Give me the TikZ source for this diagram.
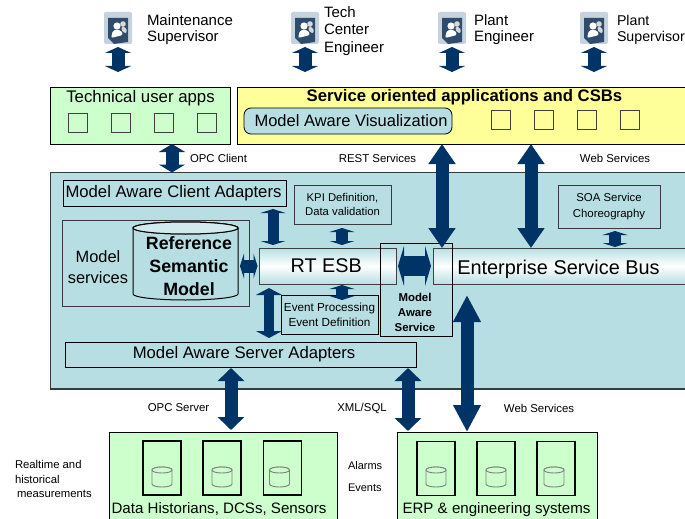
\documentclass[tikz,border=0pt]{standalone}
\usepackage{fontspec}
\setmainfont{Liberation Sans}
\usetikzlibrary{arrows.meta,calc}
\definecolor{arrowblue}{HTML}{003366}
\definecolor{maingreen}{HTML}{CCFFCC}
\definecolor{mainyellow}{HTML}{FFFF99}
\definecolor{mainteal}{HTML}{B7DFE3}
\definecolor{edgegray}{HTML}{3A3A3A}
\definecolor{iconframe}{HTML}{C6D2DE}
\definecolor{icondark}{HTML}{304C6C}
\newcommand{\fsz}[1]{\fontsize{#1}{#1}\selectfont}
\newcommand{\cylbody}[3]{%
  \path[#3] ($(#1.north west)+(0,#2)$) -- ($(#1.south west)+(0,-#2)$)
     arc[start angle=180,end angle=360,x radius={\csname cylrx\endcsname},y radius=#2 pt]
     -- ($(#1.north east)+(0,#2)$)
     arc[start angle=0,end angle=180,x radius={\csname cylrx\endcsname},y radius=#2 pt] -- cycle;
  \path[#3] ($(#1.north west)+(0,#2)$)
     arc[start angle=180,end angle=540,x radius={\csname cylrx\endcsname},y radius=#2 pt];
}
\tikzset{
  every node/.style={inner sep=0pt,outer sep=0pt},
  box/.style={draw=black,line width=1pt,minimum width=#1},
  hh/.style={minimum height=#1},
  smallsq/.style={draw=black!75,fill=none,line width=0.9pt,minimum width=19pt,minimum height=19pt},
  slot/.style={draw=black,line width=1.1pt,minimum width=38pt,minimum height=54pt},
  can/.style={minimum width=20pt,minimum height=20pt},
  canline/.style={draw=black!50,line width=0.9pt,fill=maingreen},
  rolelabel/.style={anchor=west,align=left,text=black},
  bus/.style={draw=black!75,line width=1pt,minimum height=36pt,top color=mainteal,bottom color=mainteal,middle color=white},
  blockarrow/.style n args={3}{draw=arrowblue,fill=arrowblue,line width=#1pt,
     {Triangle[width=#2pt,length=#3pt]}-{Triangle[width=#2pt,length=#3pt]}},
  person/.style={minimum width=28pt,minimum height=32pt,path picture={
     \coordinate (pc) at (path picture bounding box.center);
     \fill[iconframe,rounded corners=2pt] (path picture bounding box.south west) rectangle (path picture bounding box.north east);
     \fill[icondark] ($(pc)+(-10,-10)$) -- ($(pc)+(10,-10)$) -- ($(pc)+(10,14)$) -- ($(pc)+(-4,16)$) -- ($(pc)+(-10,10)$) -- cycle;
     \fill[white] ($(pc)+(-1,-2)$) circle (3.6pt);
     \fill[white!85!black] ($(pc)+(5,-4)$) circle (2.8pt);
     \fill[white!85!black,rounded corners=2pt] ($(pc)+(3,-1)$) -- ($(pc)+(8,-1)$) -- ($(pc)+(9,5)$) -- ($(pc)+(5,5)$) -- cycle;
     \fill[white,rounded corners=2pt] ($(pc)+(-7,10)$) -- ($(pc)+(-5,2)$) -- ($(pc)+(3,2)$) -- ($(pc)+(5,7)$) -- cycle;
  }},
}
\begin{document}
\begin{tikzpicture}[x=1pt,y=-1pt]
\clip (0,0) rectangle (685,519);
\fill[white] (0,0) rectangle (685,519);

% users
\node[person] (u1) at (118,28) {};
\node[person] (u2) at (305,28) {};
\node[person] (u3) at (452,28) {};
\node[person] (u4) at (594,28) {};
\node[rolelabel,font=\fsz{15}] (t1) at (147,30) {Maintenance\\[1pt]Supervisor};
\node[rolelabel,font=\fsz{15}] (t2) at (324,31) {Tech\\[2.5pt]Center\\[2.5pt]Engineer};
\node[rolelabel,font=\fsz{15}] (t3) at (474,30) {Plant\\[1pt]Engineer};
\node[rolelabel,font=\fsz{14.2}] (t4) at (617,30) {Plant\\[1.8pt]Supervisor};

% top boxes
\node[box=180pt,hh=57pt,fill=maingreen] (tech) at (140.5,115.5) {};
\node[font=\fsz{16.8}] (techt) at (140.5,98) {Technical user apps};
\node[smallsq] (ts1) at (77.5,122.5) {};
\node[smallsq] (ts2) at (120.5,122.5) {};
\node[smallsq] (ts3) at (163.5,122.5) {};
\node[smallsq] (ts4) at (206.5,122.5) {};

\node[box=460pt,hh=57pt,fill=mainyellow] (yellow) at (467,115.5) {};
\node[font=\bfseries\fsz{16.7}] (yellowt) at (464.5,97) {Service oriented applications and CSBs};
\node[draw=black,line width=0.8pt,fill=mainteal,rounded corners=7pt,minimum width=208pt,minimum height=26pt,font=\fsz{16.5}] (vis) at (348,121) {\hspace{6pt}Model Aware Visualization};
\node[smallsq] (ys1) at (500.5,120) {};
\node[smallsq] (ys2) at (543.5,120) {};
\node[smallsq] (ys3) at (586.5,120) {};
\node[smallsq] (ys4) at (629.5,120) {};

% main panel
\node[draw=edgegray,line width=1.3pt,fill=mainteal,minimum width=640pt,minimum height=216.5pt] (main) at (370.5,280.75) {};
\node[box=223pt,hh=26pt,font=\fsz{16.7}] (client) at (174.5,193) {\hspace{-2pt}Model Aware Client Adapters};
\node[box=186.5pt,hh=86pt,draw=edgegray] (msvc) at (155.75,263) {};
\node[font=\fsz{16.4},align=center] (msvct) at (98,267) {Model\\[4pt]services};
\node[minimum width=105pt,minimum height=78pt] (rsm) at (185.5,261) {};
\def\cylrx{52.5pt}
\cylbody{rsm}{6}{draw=black,line width=1pt,fill=mainteal}
\path[fill=mainteal!65!white,draw=black,line width=1pt] ($(rsm.north)+(0,6)$) ellipse [x radius=52.5pt,y radius=6pt];
\node[font=\bfseries\fsz{17.8},align=center] (rsmt) at (189,266) {Reference\\[5pt]Semantic\\[5pt]Model};
\node[box=97pt,hh=39pt,draw=edgegray,font=\fsz{11.3},align=center] (kpi) at (342.5,204.5) {KPI Definition,\\[3pt]Data validation};
\node[bus,minimum width=136.5pt,font=\fsz{19.8}] (rtesb) at (327.75,266) {\hspace{-3pt}RT ESB};
\node[bus,minimum width=262pt] (esb) at (564,266) {};
\node[font=\fsz{19.9}] (esbt) at (558.5,269) {Enterprise Service Bus};
\node[box=97pt,hh=39pt,font=\fsz{11.7},align=center] (event) at (329.5,314.5) {Event Processing\\[3pt]Event Definition};
\node[box=351pt,hh=25pt,font=\fsz{16.7}] (server) at (240.5,354.5) {\hspace{7pt}Model Aware Server Adapters};
\node[box=102pt,hh=43pt,draw=edgegray,font=\fsz{11.4},align=center] (soa) at (609,206.5) {SOA Service\\[4pt]Choreography};
\node[draw=black,line width=0.9pt,minimum width=72pt,minimum height=93pt] (mas) at (416.5,289.5) {};
\node[font=\bfseries\fsz{11.4},align=center] (mast) at (415,312.5) {Model\\[3.5pt]Aware\\[3.5pt]Service};

% bottom boxes
\node[box=228pt,hh=88pt,fill=maingreen] (data) at (223,476) {};
\node[slot] (d1) at (162,468) {};
\node[slot] (d2) at (222,468) {};
\node[slot] (d3) at (282.5,468) {};
\def\cylrx{10pt}
\node[can] (c1) at (162,477) {};
\node[can] (c2) at (222,477) {};
\node[can] (c3) at (279.5,477) {};
\cylbody{c1}{3}{canline}
\cylbody{c2}{3}{canline}
\cylbody{c3}{3}{canline}
\node[font=\fsz{15.1}] (datat) at (219,509) {Data Historians, DCSs, Sensors};
\node[box=200pt,hh=88pt,fill=maingreen] (erp) at (497,476) {};
\node[slot] (e1) at (436,468.5) {};
\node[slot] (e2) at (496,468.5) {};
\node[slot] (e3) at (556,468.5) {};
\node[can] (c4) at (436,477) {};
\node[can] (c5) at (496,477) {};
\node[can] (c6) at (554,477) {};
\cylbody{c4}{3}{canline}
\cylbody{c5}{3}{canline}
\cylbody{c6}{3}{canline}
\node[font=\fsz{15.1}] (erpt) at (496.5,510) {ERP \& engineering systems};

% labels
\node[font=\fsz{11.4},anchor=west] (l1) at (190,158.5) {OPC Client};
\node[font=\fsz{11.4}] (l2) at (377.5,158.5) {REST Services};
\node[font=\fsz{11.4}] (l3) at (615,158.5) {Web Services};
\node[font=\fsz{11.4}] (l4) at (178.5,408) {OPC Server};
\node[font=\fsz{11.4}] (l5) at (362,408) {XML/SQL};
\node[font=\fsz{11.4}] (l6) at (539,408) {Web Services};
\node[font=\fsz{11.3},anchor=west,align=left] (l7) at (15,479) {Realtime and\\[3pt]historical\\[3pt]\hspace{2pt}measurements};
\node[font=\fsz{11},anchor=west] (l8) at (348,466) {Alarms};
\node[font=\fsz{11},anchor=west] (l9) at (348,488) {Events};

% x positions of vertical connectors
\coordinate (xopc) at (172,0);
\coordinate (xrest) at (442,0);
\coordinate (xweb) at (531,0);
\coordinate (xca) at (273,0);
\coordinate (xkpi) at (342,0);
\coordinate (xsa) at (269,0);
\coordinate (xsoa) at (615,0);
\coordinate (xos) at (231,0);
\coordinate (xxml) at (408,0);
\coordinate (xws) at (467,0);

% connectors
\foreach \u in {u1,u2,u3,u4}
  \draw[blockarrow={13}{26}{6},shorten <=3pt,shorten >=15pt] (\u.south) -- (tech.north -| \u.south);
\draw[blockarrow={13}{26}{8}] (xopc |- tech.south) -- (xopc |- main.north);
\draw[blockarrow={13}{26}{20}] (xrest |- yellow.south) -- (xrest |- esb.north);
\draw[blockarrow={13}{26}{20}] (xweb |- yellow.south) -- (xweb |- esb.north);
\draw[blockarrow={11}{25}{4},shorten <=3pt,shorten >=3pt] (xca |- client.south) -- (xca |- rtesb.north);
\draw[blockarrow={12}{25}{4},shorten <=4pt,shorten >=3pt] (xkpi |- kpi.south) -- (xkpi |- rtesb.north);
\draw[blockarrow={13}{25}{4},shorten <=2pt,shorten >=2pt] (rtesb.west -| rsm.east) -- (rtesb.west);
\draw[blockarrow={12}{25}{4},shorten <=1pt,shorten >=-5pt] (xkpi |- rtesb.south) -- (xkpi |- event.north);
\draw[blockarrow={10}{26}{7},shorten <=4pt,shorten >=4pt] (xsa |- rtesb.south) -- (xsa |- server.north);
\draw[blockarrow={20}{40}{6},shorten <=2pt,shorten >=2pt] (rtesb.east) -- (esb.west);
\draw[blockarrow={12}{25}{4},shorten <=3pt,shorten >=1pt] (xsoa |- soa.south) -- (xsoa |- esb.north);
\draw[blockarrow={13}{26}{13},shorten <=1pt,shorten >=2pt] (xos |- server.south) -- (xos |- data.north);
\draw[blockarrow={13}{26}{13},shorten <=1pt,shorten >=1pt] (xxml |- server.south) -- (xxml |- erp.north);
\draw[blockarrow={13}{26}{27},shorten <=11pt,shorten >=0pt] (xws |- esb.south) -- (xws |- erp.north);
\end{tikzpicture}
\end{document}
